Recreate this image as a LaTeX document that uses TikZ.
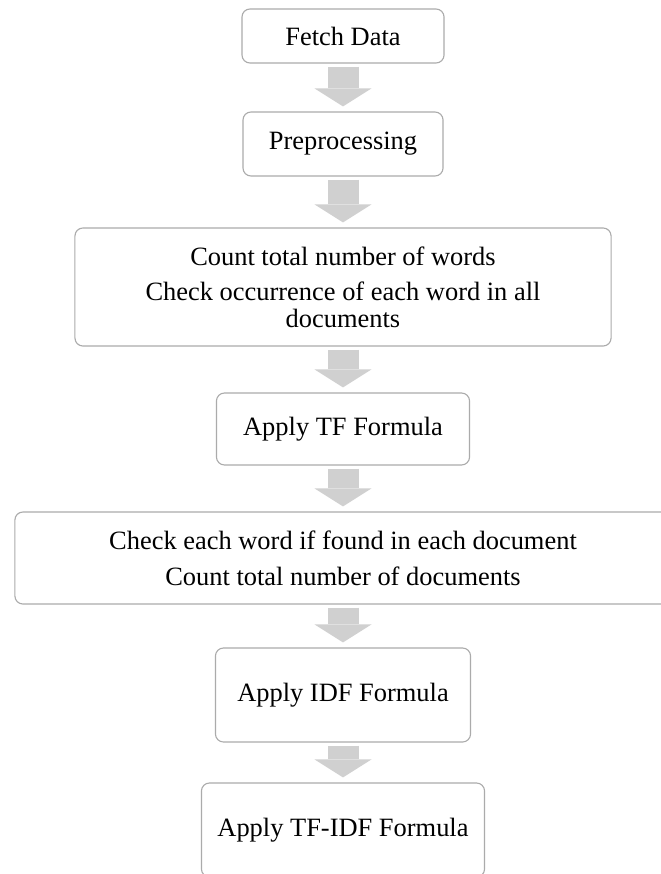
\documentclass[tikz,border=0pt]{standalone}
\usepackage{fontspec}
\setmainfont{Liberation Serif}
\usetikzlibrary{arrows.meta}
\definecolor{boxgray}{HTML}{ABABAB}
\definecolor{arrowgray}{HTML}{D0D0D0}
\begin{document}
\begin{tikzpicture}[x=0.025cm,y=-0.025cm,
  stepbox/.style={draw=boxgray,line width=0.8pt,rounded corners=0.2cm,align=center,
    font=\fontsize{18.8pt}{19.2pt}\selectfont},
  flow/.style={draw=arrowgray,line width=0.775cm,shorten <=0.075cm,shorten >=0.125cm,
    -{Triangle[width=1.425cm,length=0.45cm,line width=0pt]}}]
\useasboundingbox (0,0) rectangle (660,874);
\node[stepbox,minimum width=5.05cm,minimum height=1.35cm] (fetch) at (343,36) {Fetch Data};
\node[stepbox,minimum width=5cm,minimum height=1.6cm] (prep) at (343,144) {Preprocessing};
\node[stepbox,minimum width=13.4cm,minimum height=2.95cm] (count) at (343,287)
  {Count total number of words\\[5.7pt] Check occurrence of each word in all\\ documents};
\node[stepbox,minimum width=6.325cm,minimum height=1.8cm] (tf) at (343,429) {Apply TF Formula};
\node[stepbox,minimum width=16.4cm,minimum height=2.3cm] (check) at (343,558)
  {Check each word if found in each document\\[6.4pt] Count total number of documents};
\node[stepbox,minimum width=6.375cm,minimum height=2.35cm] (idf) at (343,695) {Apply IDF Formula};
\node[stepbox,minimum width=7.075cm,minimum height=2.35cm] (tfidf) at (343,830) {Apply TF-IDF Formula};
\draw[flow] (fetch) -- (prep);
\draw[flow] (prep) -- (count);
\draw[flow] (count) -- (tf);
\draw[flow] (tf) -- (check);
\draw[flow] (check) -- (idf);
\draw[flow] (idf) -- (tfidf);
\end{tikzpicture}
\end{document}
